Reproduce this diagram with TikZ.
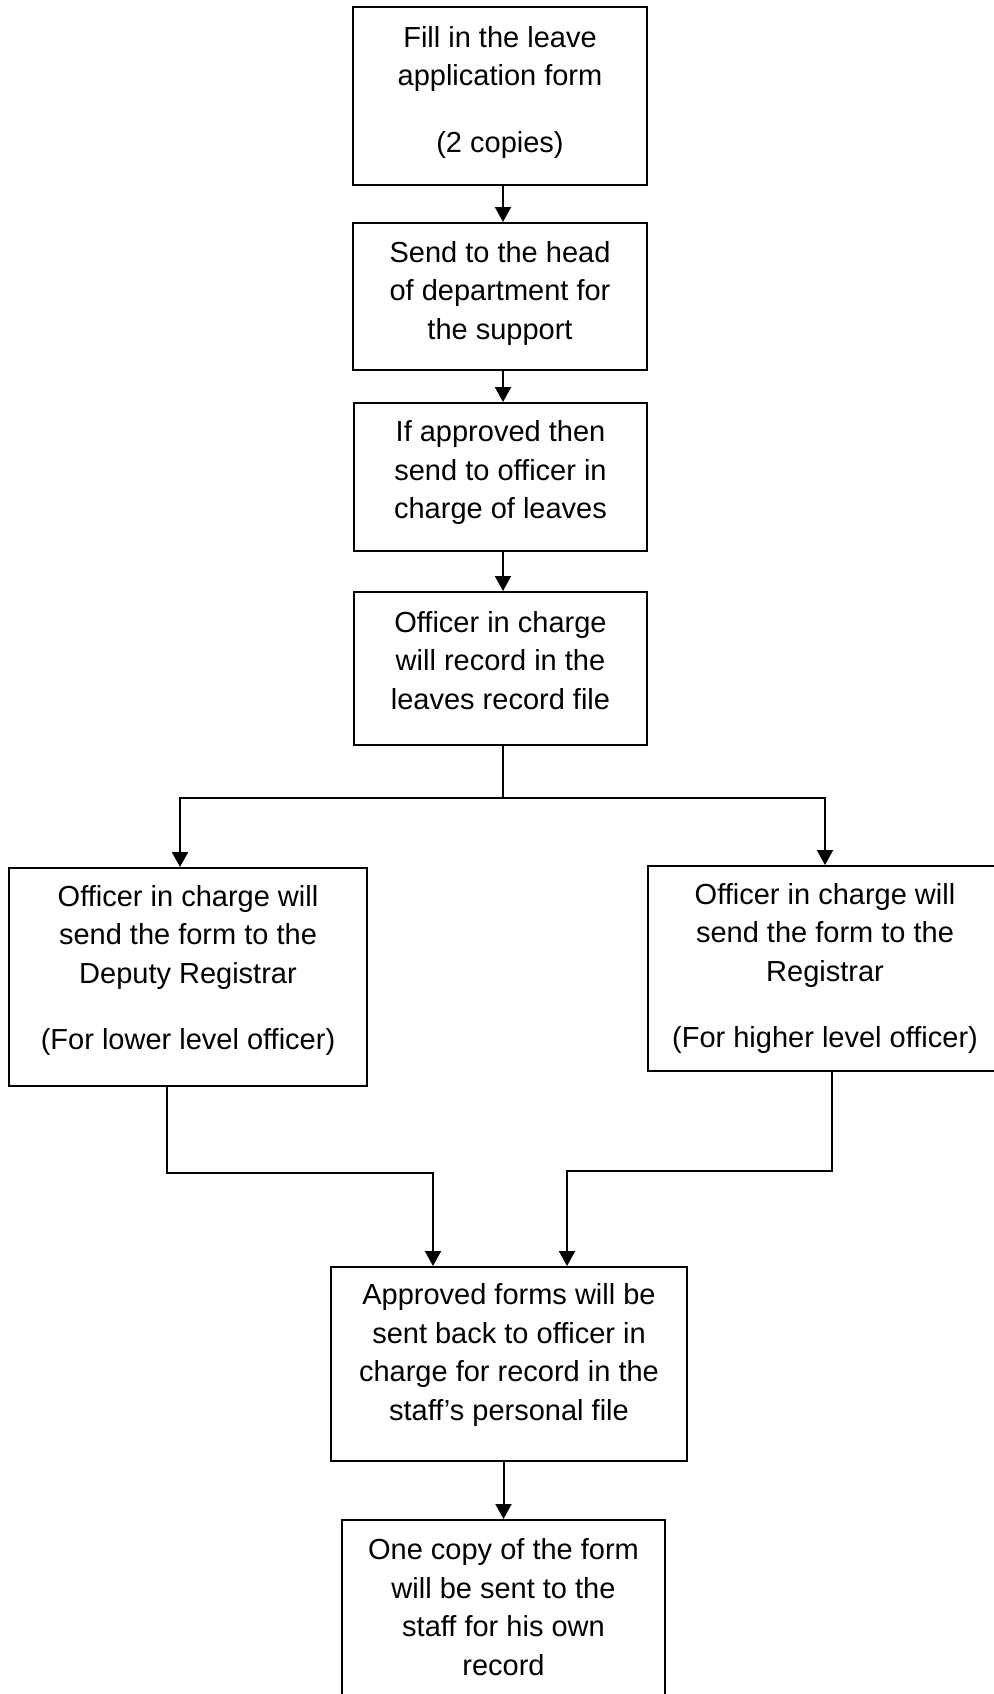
\documentclass[tikz,border=0pt]{standalone}
\usepackage{fontspec}
\setmainfont{Liberation Sans}
\usetikzlibrary{arrows.meta}
\newcommand{\dn}[1]{\rule[-#1pt]{0pt}{1pt}}
\tikzset{
  box/.style={draw=black, line width=2pt, align=center, inner sep=0pt,
    font=\fontsize{29}{38.5}\selectfont},
  conn/.style={draw=black, line width=2pt},
  arr/.style={conn, -{Triangle[width=16pt,length=15pt]}},
}
\begin{document}
\begin{tikzpicture}[x=1pt,y=-1pt]
\fill[white] (0,0) rectangle (993,1694);
\useasboundingbox (0,0) rectangle (993,1694);

\node[box, minimum width=294pt, minimum height=178pt] (b1) at (500,96)
  {Fill in the leave\\application form\\[28pt](2 copies)\dn{14}};
\node[box, minimum width=294pt, minimum height=147pt] (b2) at (500,296.5)
  {Send to the head\\of department for\\the support\dn{13}};
\node[box, minimum width=293pt, minimum height=148pt] (b3) at (500.5,477)
  {If approved then\\send to officer in\\charge of leaves\dn{15}};
\node[box, minimum width=293pt, minimum height=153pt] (b4) at (500.5,668.5)
  {Officer in charge\\will record in the\\leaves record file\dn{17}};
\node[box, minimum width=358pt, minimum height=218pt] (b5l) at (188,977)
  {Officer in charge will\\send the form to the\\Deputy Registrar\\[28pt](For lower level officer)\dn{19}};
\node[box, minimum width=354pt, minimum height=205pt] (b5r) at (825,968.5)
  {Officer in charge will\\send the form to the\\Registrar\\[28pt](For higher level officer)};
\node[box, minimum width=356pt, minimum height=194pt] (b6) at (509,1364)
  {Approved forms will be\\sent back to officer in\\charge for record in the\\staff’s personal file\dn{24}};
\node[box, minimum width=323pt, minimum height=190pt] (b7) at (503.5,1615)
  {One copy of the form\\will be sent to the\\staff for his own\\record\dn{16}};

\coordinate (jl) at (180,798);
\coordinate (jr) at (825,798);
\coordinate (ml) at (433,1173);
\coordinate (mr) at (567,1171);

\draw[arr] ([xshift=3pt]b1.south) -- ([xshift=3pt]b2.north);
\draw[arr] ([xshift=3pt]b2.south) -- ([xshift=2.5pt]b3.north);
\draw[arr] ([xshift=2.5pt]b3.south) -- ([xshift=2.5pt]b4.north);
\draw[arr] ([xshift=2.5pt]b4.south) |- (jl) -- (b5l.north -| jl);
\draw[arr] ([xshift=2.5pt]b4.south) |- (jr) -- (b5r.north -| jr);
\draw[arr] ([xshift=-21pt]b5l.south) |- (ml) -- (b6.north -| ml);
\draw[arr] ([xshift=7pt]b5r.south) |- (mr) -- (b6.north -| mr);
\draw[arr] (b6.south -| b7.north) -- (b7.north);
\end{tikzpicture}
\end{document}
